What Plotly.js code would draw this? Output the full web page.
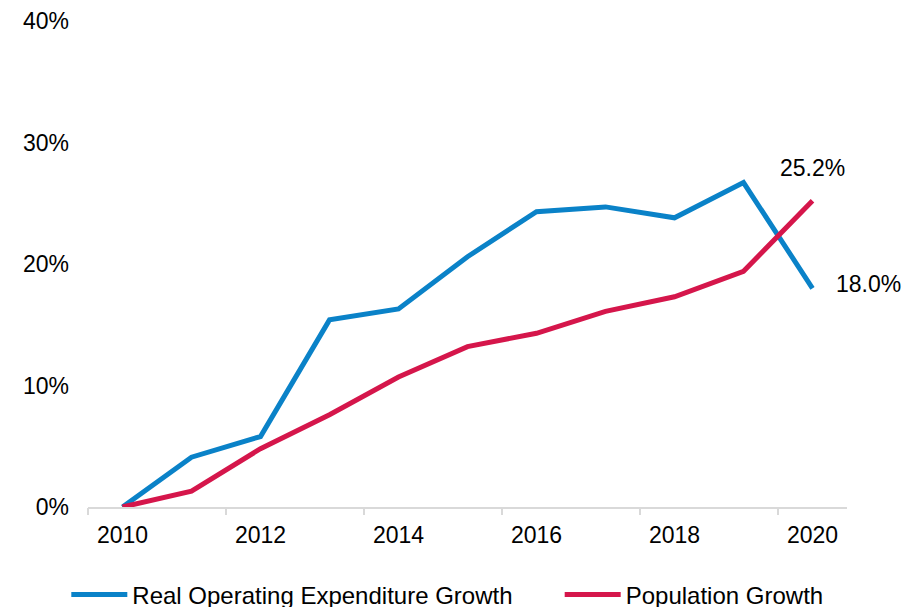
<!DOCTYPE html>
<html>
<head>
<meta charset="utf-8">
<script src="https://cdn.plot.ly/plotly-3.0.1.min.js"></script>
<style>
  html, body { margin: 0; padding: 0; background: #fff; }
  #chart { width: 921px; height: 607px; }
</style>
</head>
<body>
<div id="chart"></div>
<script>
// Chart data
const years = [2010, 2011, 2012, 2013, 2014, 2015, 2016, 2017, 2018, 2019, 2020];
const opexGrowth = [0, 4.1, 5.8, 15.4, 16.3, 20.6, 24.3, 24.7, 23.8, 26.7, 18.0];
const popGrowth = [0, 1.3, 4.8, 7.6, 10.7, 13.2, 14.3, 16.1, 17.3, 19.4, 25.2];
const labelYears = [2010, 2012, 2014, 2016, 2018, 2020];
const boundaryTicks = [2009.5, 2011.5, 2013.5, 2015.5, 2017.5, 2019.5];
const yTicks = [0, 10, 20, 30, 40];

const blue = '#0A82C8';
const red = '#D5164B';
const font = { family: 'Liberation Sans, Arial, sans-serif', size: 23, color: '#000' };
const legendFont = { family: 'Liberation Sans, Arial, sans-serif', size: 24, color: '#000' };

// one single-entry legend per series, so each can sit where the reference puts it
function legendAt(x) {
    return {
        orientation: 'h',
        xref: 'container',
        yref: 'container',
        x: x,
        xanchor: 'left',
        y: 0.02,
        yanchor: 'middle',
        itemwidth: 56,
        font: legendFont,
        bgcolor: 'rgba(0,0,0,0)'
    };
}

document.addEventListener('DOMContentLoaded', () => {
    const data = [{
        type: 'scatter',
        mode: 'lines',
        x: years,
        y: opexGrowth,
        name: 'Real Operating Expenditure Growth',
        legend: 'legend',
        line: { color: blue, width: 5 }
    }, {
        type: 'scatter',
        mode: 'lines',
        x: years,
        y: popGrowth,
        name: 'Population Growth',
        legend: 'legend2',
        line: { color: red, width: 5 }
    }, {
        // invisible helper so the boundary tick axis gets drawn
        type: 'scatter',
        mode: 'lines',
        x: [boundaryTicks[0]],
        y: [0],
        xaxis: 'x2',
        showlegend: false,
        hoverinfo: 'skip',
        line: { width: 0 }
    }];

    const last = years.length - 1;

    const layout = {
        width: 921,
        height: 607,
        margin: { l: 88, r: 74, t: 21, b: 100 },
        paper_bgcolor: '#fff',
        plot_bgcolor: '#fff',
        font: font,
        showlegend: true,
        xaxis: {
            range: [2009.5, 2020.5],
            tickvals: labelYears,
            ticktext: labelYears.map(String),
            ticks: '',
            ticklabelstandoff: 6,
            showgrid: false,
            zeroline: false,
            showline: true,
            linecolor: '#D9D9D9',
            linewidth: 2,
            tickfont: font
        },
        xaxis2: {
            overlaying: 'x',
            side: 'bottom',
            range: [2009.5, 2020.5],
            tickvals: boundaryTicks,
            ticks: 'outside',
            ticklen: 7,
            tickwidth: 2,
            tickcolor: '#D9D9D9',
            showticklabels: false,
            showgrid: false,
            zeroline: false,
            showline: false
        },
        yaxis: {
            range: [0, 40],
            tickvals: yTicks,
            ticktext: yTicks.map(v => v + '%'),
            ticks: '',
            ticklabelstandoff: 18,
            showgrid: false,
            zeroline: false,
            showline: false,
            tickfont: font
        },
        legend: legendAt(0.072),
        legend2: legendAt(0.6077),
        annotations: [{
            x: years[last],
            y: popGrowth[last],
            text: popGrowth[last].toFixed(1) + '%',
            showarrow: false,
            xanchor: 'center',
            yanchor: 'bottom',
            yshift: 18,
            font: font
        }, {
            x: years[last],
            y: opexGrowth[last],
            text: opexGrowth[last].toFixed(1) + '%',
            showarrow: false,
            xanchor: 'left',
            yanchor: 'middle',
            xshift: 21,
            yshift: 4,
            font: font
        }]
    };

    Plotly.newPlot('chart', data, layout, { displayModeBar: false, responsive: false });
});
</script>
</body>
</html>
